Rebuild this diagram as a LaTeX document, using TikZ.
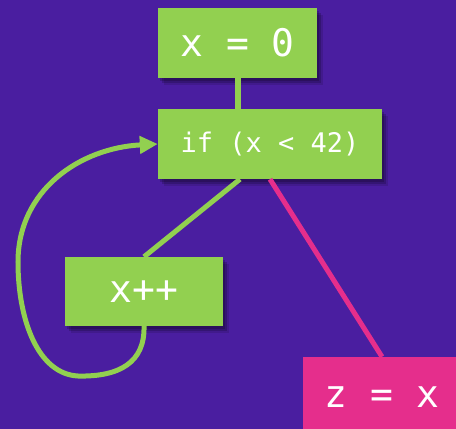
\documentclass[tikz,border=0pt]{standalone}
\usepackage{fontspec}
\setmonofont{DejaVu Sans Mono}
\usetikzlibrary{shadows,arrows.meta}
\definecolor{bgpurple}{RGB}{74,30,160}
\definecolor{boxgreen}{RGB}{146,208,80}
\definecolor{boxpink}{RGB}{229,46,140}
\tikzset{
  softshadow/.style={
    general shadow={shadow xshift=2pt, shadow yshift=-3pt, fill=black, opacity=0.18, shadow scale=1.0},
    general shadow={shadow xshift=4pt, shadow yshift=-5pt, fill=black, opacity=0.18},
    general shadow={shadow xshift=6pt, shadow yshift=-7pt, fill=black, opacity=0.12}},
  codebox/.style={rectangle, fill=boxgreen, text=white, inner sep=0pt,
    font=\ttfamily\fontsize{38}{40}\selectfont, softshadow},
  pinkbox/.style={rectangle, fill=boxpink, text=white, inner sep=0pt,
    font=\ttfamily\fontsize{38}{40}\selectfont},
  greenline/.style={draw=boxgreen, line width=5pt},
  pinkline/.style={draw=boxpink, line width=5pt},
}
\begin{document}
\begin{tikzpicture}[x=1pt, y=-1pt]
\clip (0,0) rectangle (456,429);
\fill[bgpurple] (0,0) rectangle (456,429);
\useasboundingbox (0,0) rectangle (456,429);
\node[codebox, minimum width=159pt, minimum height=70pt] (n1) at (237.5,43) {x = 0};
\node[codebox, minimum width=224pt, minimum height=70pt, font=\ttfamily\fontsize{27}{29}\selectfont] (n2) at (270,144) {if (x < 42)};
\node[codebox, minimum width=158pt, minimum height=69pt] (n3) at (144,291.5) {x++};
\node[pinkbox, minimum width=158pt, minimum height=80pt] (n4) at (382,397) {z = x};
\draw[greenline, line width=6pt] (n1.south) -- (n1.south |- n2.north);
\draw[greenline] ([xshift=-30pt]n2.south) -- (n3.north);
\draw[pinkline] (n2.south) -- (n4.north);
\draw[greenline, -{Triangle[length=18pt,width=17pt]}] (n3.south)
  .. controls (145,362) and (120,377) .. (78,376)
  .. controls (38,374) and (18,320) .. (18,262)
  .. controls (18,190) and (80,148) .. (n2.west);
\end{tikzpicture}
\end{document}
